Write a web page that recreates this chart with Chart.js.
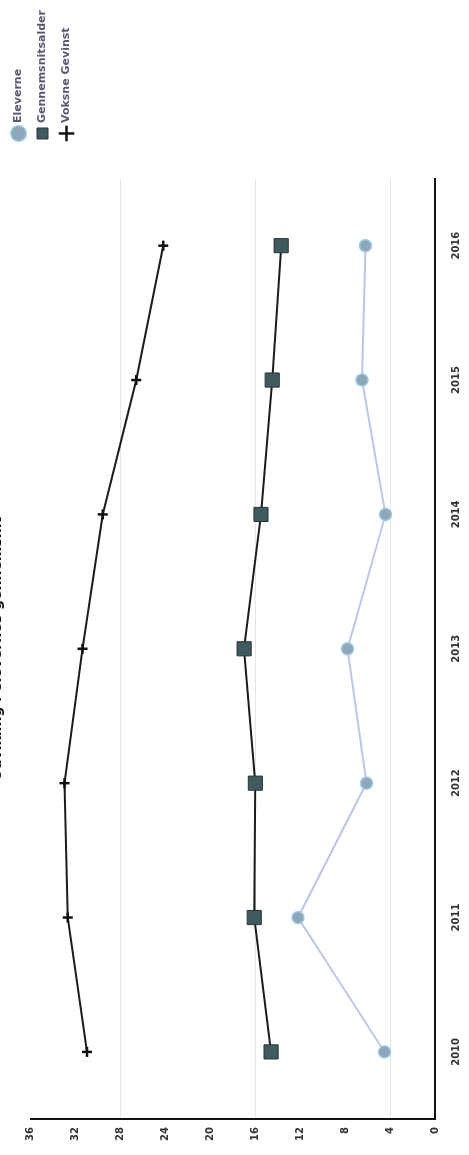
<!DOCTYPE html>
<html>
<head>
<meta charset="utf-8">
<script src="https://cdn.jsdelivr.net/npm/chart.js@4.4.0/dist/chart.umd.min.js"></script>
<style>
  html, body { margin: 0; padding: 0; background: #fff; overflow: hidden; }
  body { width: 469px; height: 1155px; position: relative; }
  /* the whole chart is drawn landscape and turned a quarter to the left */
  #wrap {
    position: absolute; left: 0; top: 0;
    width: 1155px; height: 469px;
    transform-origin: 0 0;
    transform: translate(0, 1155px) rotate(-90deg);
  }
</style>
</head>
<body>
<div id="wrap"><canvas id="myChart" width="1155" height="469"></canvas></div>
<script>
const years = ['2010', '2011', '2012', '2013', '2014', '2015', '2016']
const eleverne = [4.5, 12.2, 6.1, 7.8, 4.4, 6.5, 6.2]
const gennemsnit = [14.6, 16.1, 16.0, 17.0, 15.5, 14.5, 13.7]
const voksne = [31.0, 32.7, 33.0, 31.4, 29.6, 26.6, 24.2]
const seriesNames = ['Eleverne', 'Gennemsnitsalder', 'Voksne Gevinst']
const titleText = 'Udvikling i elevernes gennemsnit'

const tickFont = { family: 'DejaVu Sans', size: 10, weight: 'bold' }

const ctx = document.getElementById('myChart').getContext('2d')
const myChart = new Chart(ctx, {
  type: 'line',
  data: {
    labels: years,
    datasets: [{
      label: seriesNames[0],
      data: eleverne,
      borderColor: '#bcc6e8',
      borderWidth: 2,
      pointStyle: 'circle',
      pointRadius: 6,
      pointBackgroundColor: '#8fa6b8',
      pointBorderColor: '#9ccbe4',
      pointBorderWidth: 1.5,
      tension: 0
    }, {
      label: seriesNames[1],
      data: gennemsnit,
      borderColor: '#1c1c1c',
      borderWidth: 2,
      pointStyle: 'rect',
      pointRadius: 10,
      pointBackgroundColor: '#405b5e',
      pointBorderColor: '#2a3436',
      pointBorderWidth: 1,
      tension: 0
    }, {
      label: seriesNames[2],
      data: voksne,
      borderColor: '#1c1c1c',
      borderWidth: 2,
      pointStyle: 'cross',
      pointRadius: 5,
      pointBorderColor: '#111',
      pointBackgroundColor: '#111',
      pointBorderWidth: 2.5,
      tension: 0
    }]
  },
  options: {
    responsive: false,
    animation: false,
    devicePixelRatio: 1,
    layout: { padding: { left: 6, right: 0, top: 0, bottom: 0 } },
    plugins: {
      title: {
        display: true,
        text: titleText,
        fullSize: false,
        color: '#111',
        font: { family: 'DejaVu Sans', size: 14, weight: 'bold' },
        padding: { top: -11, bottom: 25 }
      },
      legend: {
        position: 'right',
        align: 'start',
        labels: {
          usePointStyle: true,
          color: '#5a5870',
          font: { family: 'DejaVu Sans', size: 11, weight: 'bold' },
          padding: 13,
          boxWidth: 10
        }
      },
      tooltip: { enabled: false }
    },
    scales: {
      x: {
        offset: true,
        grid: { display: false },
        border: { color: '#111', width: 2 },
        ticks: { color: '#333', font: tickFont, padding: 7 }
      },
      y: {
        min: 0,
        max: 36,
        grid: {
          drawTicks: false,
          color: c => (c.tick.value % 12 === 4 ? '#e6e6e6' : 'rgba(0,0,0,0)')
        },
        border: { color: '#111', width: 2 },
        ticks: { stepSize: 4, color: '#333', font: tickFont, padding: 8 }
      },
      gap: {
        position: 'right',
        grid: { display: false },
        border: { display: false },
        ticks: { display: false },
        afterFit: s => { s.width = 27 }
      }
    }
  }
})
</script>
</body>
</html>
